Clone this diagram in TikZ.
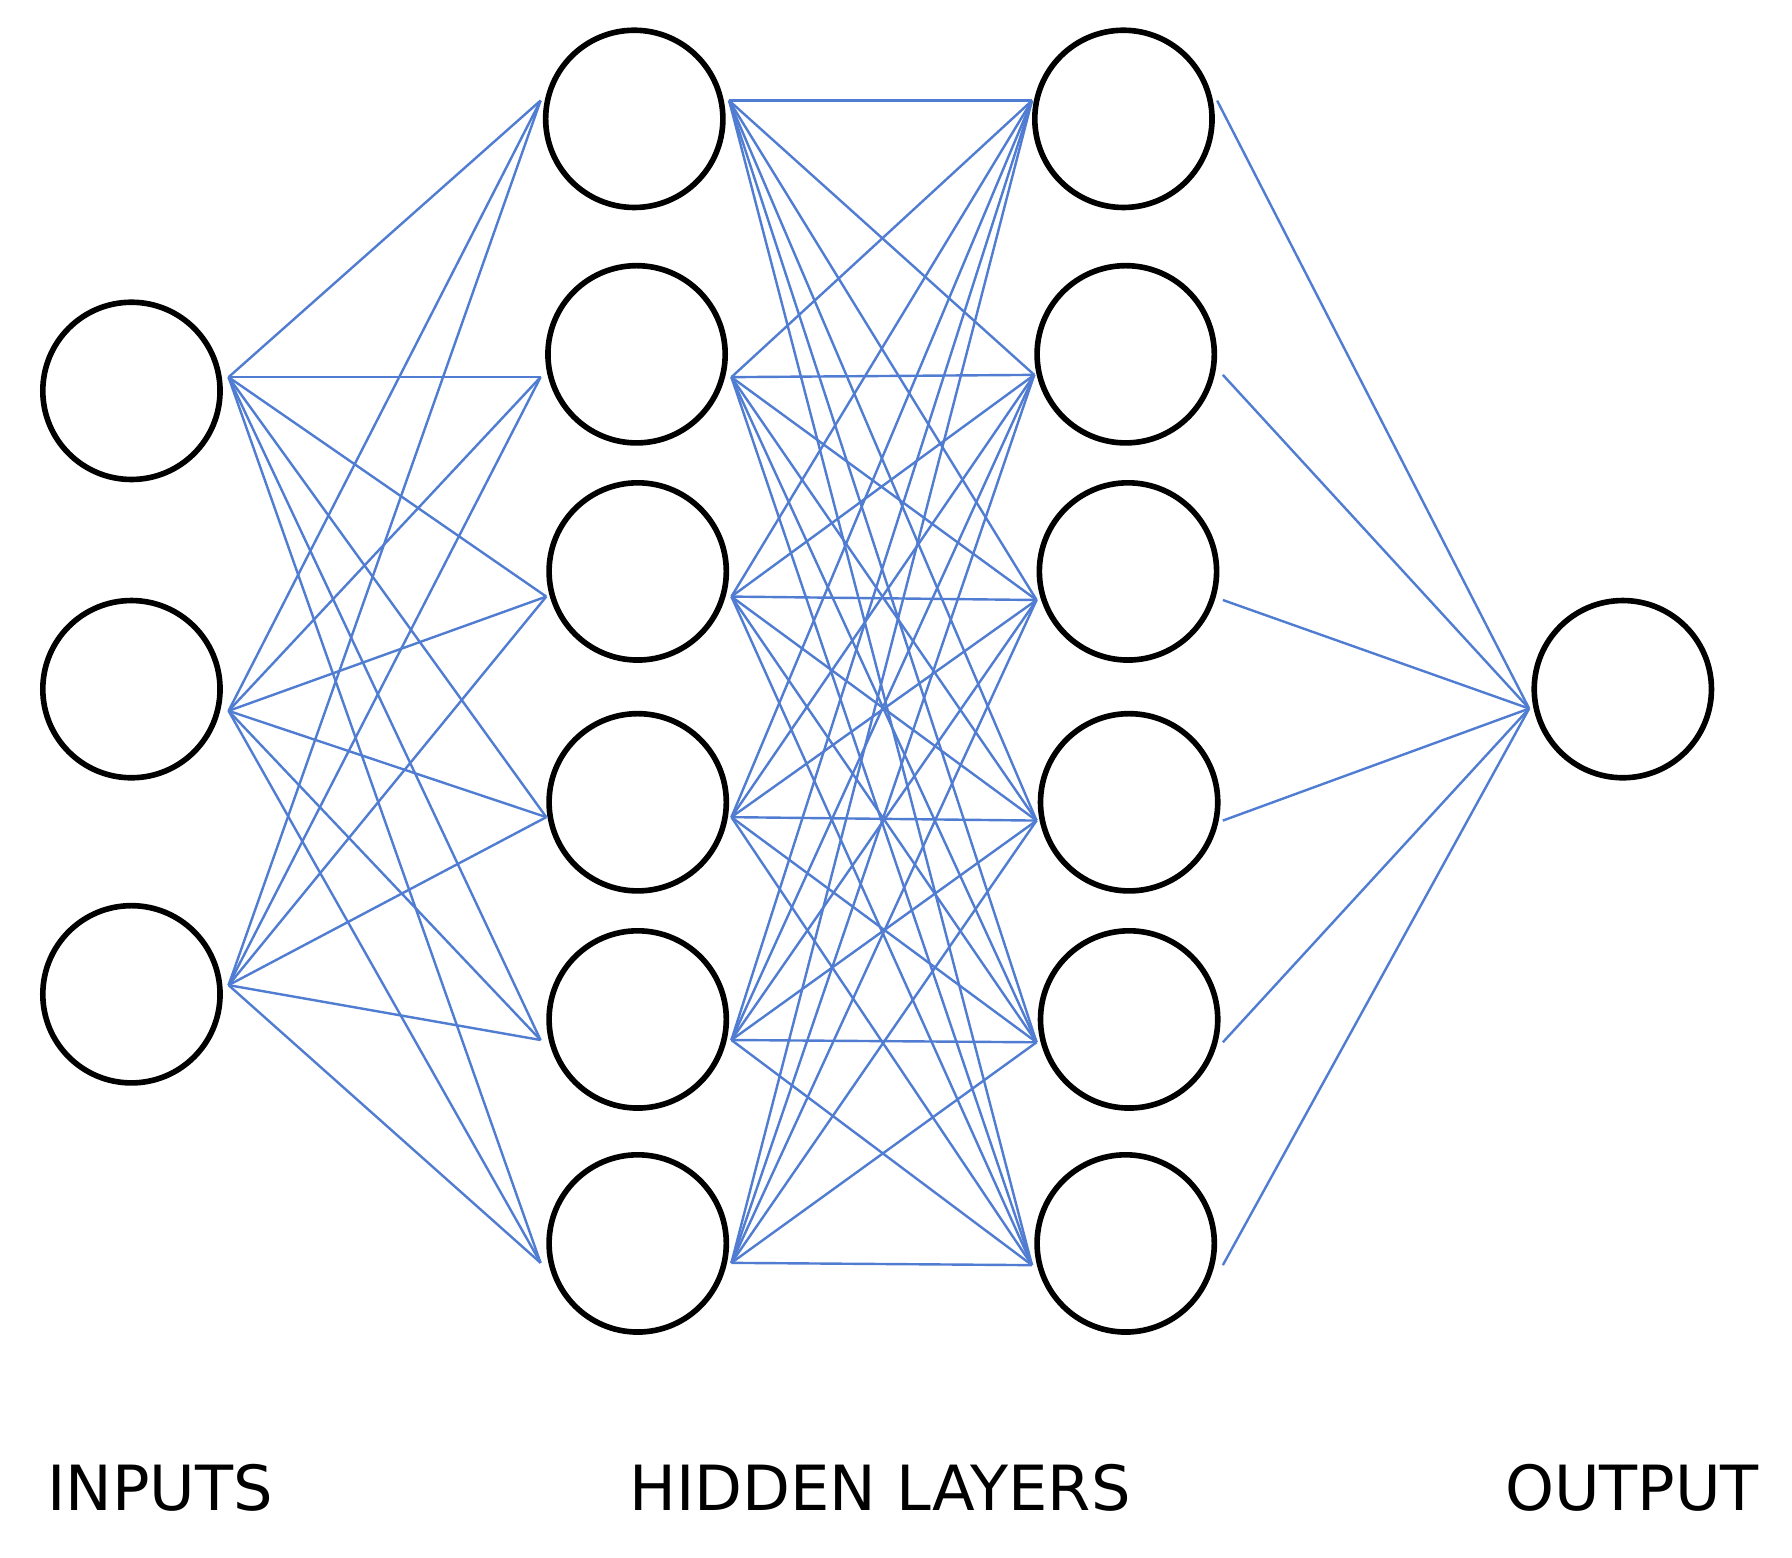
\documentclass[tikz,border=0pt]{standalone}
\usepackage{fontspec}
\setmainfont{DejaVu Sans}
\definecolor{edge}{RGB}{80,125,210}
\begin{document}
\begin{tikzpicture}[x=0.01cm,y=-0.01cm,
  neuron/.style={circle,draw=black,line width=1.4pt,minimum size=1.55cm,inner sep=0pt},
  conn/.style={draw=edge,line width=0.6pt},
  lab/.style={font=\fontsize{15.5}{18}\selectfont,anchor=base}]
\useasboundingbox (0,0) rectangle (1568,1363);
% nodes
\node[neuron] (i1) at (115,342) {};
\node[neuron] (i2) at (115,603) {};
\node[neuron] (i3) at (115,870) {};
\foreach \n/\y/\x in {1/104/555,2/310/557,3/500/558,4/702/558,5/892/558,6/1088/558}
  \node[neuron] (a\n) at (\x,\y) {};
\foreach \n/\y/\x in {1/104/983,2/310/985,3/500/987,4/702/988,5/892/988,6/1088/985}
  \node[neuron] (b\n) at (\x,\y) {};
\node[neuron] (o) at (1420,603) {};
% connection points
\coordinate (ir1) at (200,330);
\coordinate (ir2) at (200,622);
\coordinate (ir3) at (200,862);
\foreach \n/\y/\xl/\xr in {1/88/473/638,2/330/473/640,3/522/478/640,4/715/478/640,5/910/473/640,6/1105/473/640}{
  \coordinate (al\n) at (\xl,\y);
  \coordinate (ar\n) at (\xr,\y);}
\foreach \n/\y/\xl/\xr in {1/88/903/1065,2/328/905/1070,3/525/907/1070,4/718/907/1070,5/912/907/1070,6/1107/903/1070}{
  \coordinate (bl\n) at (\xl,\y);
  \coordinate (br\n) at (\xr,\y);}
\coordinate (ol) at (1338,620);
% edges
\foreach \i in {1,2,3}
  \foreach \j in {1,...,6}
    \draw[conn] (ir\i) -- (al\j);
\foreach \i in {1,...,6}
  \foreach \j in {1,...,6}
    \draw[conn] (ar\i) -- (bl\j);
\foreach \i in {1,...,6}
  \draw[conn] (br\i) -- (ol);
% labels
\node[lab] (t1) at (140,1322) {INPUTS};
\node[lab] (t2) at (770,1322) {HIDDEN LAYERS};
\node[lab] (t3) at (1428,1322) {OUTPUT};
\end{tikzpicture}
\end{document}
